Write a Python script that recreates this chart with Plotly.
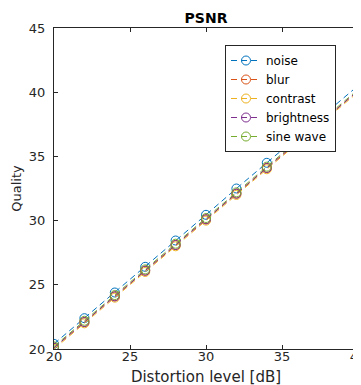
import plotly.graph_objects as go

levels = [20, 22, 24, 26, 28, 30, 32, 34, 36, 40]
noise = [20.4, 22.4, 24.4, 26.4, 28.45, 30.45, 32.5, 34.5, 36.5, 40.5]
blur = [20.1, 22.1, 24.1, 26.1, 28.1, 30.1, 32.1, 34.1, 36.1, 40.1]
contrast = [20.0, 22.0, 24.0, 26.0, 28.0, 30.0, 32.0, 34.0, 36.0, 40.0]
brightness = [20.1, 22.1, 24.1, 26.1, 28.1, 30.1, 32.1, 34.1, 36.1, 40.1]
sine_wave = [20.2, 22.2, 24.2, 26.2, 28.2, 30.2, 32.2, 34.2, 36.2, 40.2]

series = [("noise", noise, "#0072BD"), ("blur", blur, "#D95319"),
          ("contrast", contrast, "#EDB120"), ("brightness", brightness, "#7E2F8E"),
          ("sine wave", sine_wave, "#77AC30")]

fig = go.Figure()
for name, vals, col in series:
    fig.add_trace(go.Scatter(x=levels, y=vals, name=name, mode="lines+markers",
                             line=dict(color=col, width=1, dash="6px,4px"),
                             marker=dict(symbol="circle-open", size=9, color=col, line=dict(width=1))))

axis_common = dict(showgrid=False, zeroline=False, showline=True, mirror="ticks",
                   linecolor="#262626", linewidth=1, ticks="inside", ticklen=4,
                   tickcolor="#262626", tickfont=dict(size=13, color="#262626"),
                   automargin=False)
fig.update_layout(
    width=361, height=385,
    margin=dict(l=46, r=11, t=20, b=44),
    paper_bgcolor="white", plot_bgcolor="white",
    font=dict(family="DejaVu Sans", color="#262626"),
    title=dict(text="<b>PSNR</b>", xref="paper", x=0.5, xanchor="center",
               yref="container", y=0.974, yanchor="middle",
               font=dict(size=14, color="black")),
    xaxis=dict(range=[20, 40], tickvals=[20, 25, 30, 35, 40], ticklabelstandoff=-5,
               title=dict(text="Distortion level [dB]", font=dict(size=15), standoff=8), **axis_common),
    yaxis=dict(range=[20, 45], tickvals=[20, 25, 30, 35, 40, 45], ticklabelstandoff=5,
               title=dict(text="Quality", font=dict(size=13), standoff=4), **axis_common),
    legend=dict(x=0.5625, y=0.947, xanchor="left", yanchor="top",
                bgcolor="white", bordercolor="#262626", borderwidth=1,
                font=dict(size=12, color="black"), tracegroupgap=0, itemwidth=30),
    showlegend=True,
)
fig.write_html("out.html")
